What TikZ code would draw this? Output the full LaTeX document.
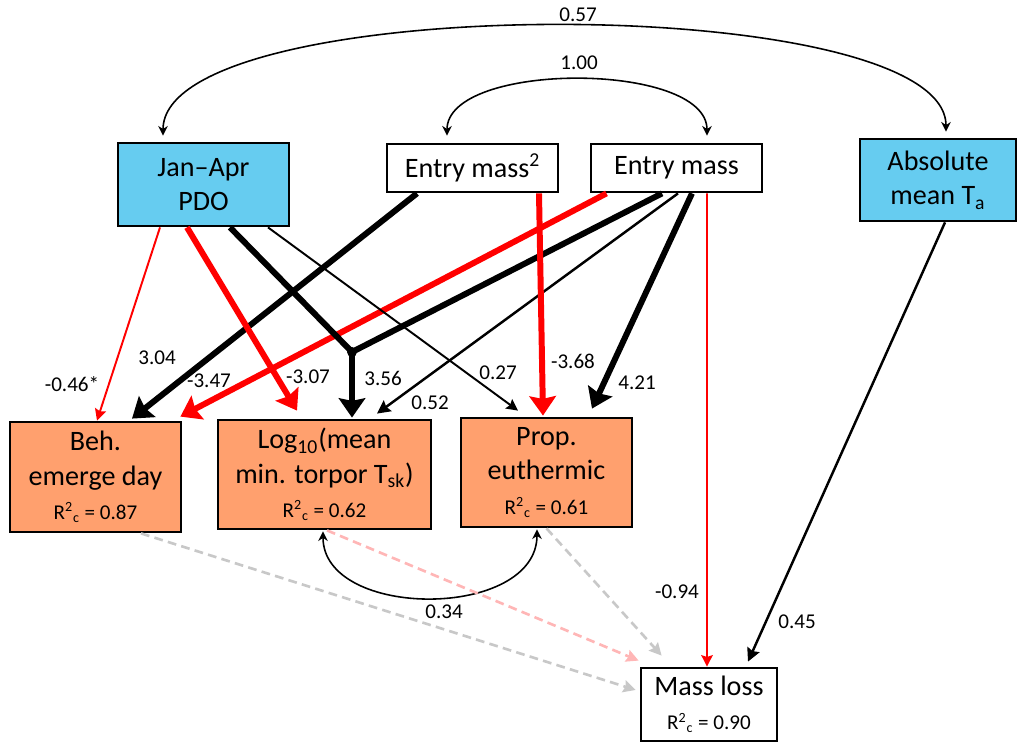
\documentclass[tikz,border=0pt]{standalone}
\usepackage{fontspec}
\setmainfont{Carlito}
\usetikzlibrary{arrows.meta,calc}
\definecolor{drvblue}{RGB}{102,204,240}
\definecolor{resporange}{RGB}{255,160,110}
\definecolor{nsgray}{RGB}{200,200,200}
\definecolor{nspink}{RGB}{255,182,182}
\newcommand{\rsqc}[1]{{\fontsize{12}{14}\selectfont R\textsuperscript{2}\textsubscript{c} = #1}}
\begin{document}
\begin{tikzpicture}[x=0.02cm,y=-0.02cm,
box/.style={draw,line width=1.6pt,inner sep=0pt,align=center,font=\fontsize{16}{19.5}\selectfont},
lbl/.style={font=\fontsize{12}{14}\selectfont,inner sep=0pt},
thinarr/.style={line width=1.1pt,-{Stealth[length=6.5pt,width=6.5pt,inset=1pt]}},
midarr/.style={line width=1.4pt,-{Stealth[length=7.5pt,width=7.5pt,inset=1pt]}},
thickarr/.style={line width=3.4pt,-{Stealth[length=11pt,width=15pt,inset=1.5pt]}},
corarr/.style={line width=0.9pt,{Stealth[length=5.5pt,width=5.5pt]}-{Stealth[length=5.5pt,width=5.5pt]}},
nsarr/.style={line width=1.5pt,dash pattern=on 5pt off 3pt,-{Stealth[length=7pt,width=7pt,inset=1pt]}}]
\useasboundingbox (0,0) rectangle (1020,742);
% exogenous boxes
\node[box,fill=drvblue,minimum width=3.42cm,minimum height=1.66cm] (pdo) at (203.5,184.5) {Jan--Apr\\PDO};
\node[box,fill=white,minimum width=3.42cm,minimum height=0.96cm] (emsq) at (472.5,168) {Entry mass\textsuperscript{2}};
\node[box,fill=white,minimum width=3.42cm,minimum height=0.96cm] (em) at (676.5,168) {Entry mass};
\node[box,fill=drvblue,minimum width=3.12cm,minimum height=1.64cm] (ta) at (938,180) {Absolute\\mean T\textsubscript{a}};
% responses
\node[box,fill=resporange,minimum width=3.42cm,minimum height=2.2cm] (beh) at (95.5,477) {Beh.\\emerge day\\\rsqc{0.87}};
\node[box,fill=resporange,minimum width=4.26cm,minimum height=2.18cm] (tsk) at (324.5,474.5) {Log\textsubscript{10}(mean\\min. torpor T\textsubscript{sk})\\\rsqc{0.62}};
\node[box,fill=resporange,minimum width=3.42cm,minimum height=2.18cm] (prop) at (546.5,472.5) {Prop.\\euthermic\\\rsqc{0.61}};
\node[box,fill=white,minimum width=2.72cm,minimum height=1.46cm] (ml) at (709,704.5) {Mass loss\\\rsqc{0.90}};
\node[circle,fill=black,inner sep=0pt,minimum size=0.2cm] (jn) at (352,352) {};
% correlations
\draw[corarr] ($(pdo.north)+(-40.5,-6)$) .. controls (163,-10) and (946,-10) .. ($(ta.north)+(8,-6)$);
\draw[corarr] ($(emsq.north)+(-25.5,-7)$) .. controls (447,61) and (707,61) .. ($(em.north)+(30.5,-7)$);
\draw[corarr] ($(tsk.south)+(-1.5,1)$) .. controls (323,620) and (537,620) .. ($(prop.south)+(-9.5,1)$);
% non-significant paths
\draw[nsarr,nsgray] ($(beh.south)+(45.5,0)$) -- ($(ml.west)+(-4,-14.5)$);
\draw[nsarr,nspink] ($(tsk.south)+(2.5,0)$) -- ($(ml.north west)+(-1,-6)$);
\draw[nsarr,nsgray] (prop.south) -- ($(ml.north west)+(22,-11)$);
% paths
\draw[thinarr,red] ($(pdo.south)+(-43.5,0)$) -- ($(beh.north)+(1.5,0)$);
\draw[thickarr] ($(emsq.south)+(-55.5,0)$) -- ($(beh.north)+(36.5,-2)$);
\draw[thickarr,red] ($(em.south)+(-70,0)$) -- ($(beh.north east)+(-2,-4)$);
\draw[thickarr,red] ($(pdo.south)+(-16.5,0)$) -- ($(tsk.north)+(-27.5,-8)$);
\draw[line width=3.4pt] ($(pdo.south)+(26.5,0)$) -- (jn.center);
\draw[line width=3.4pt] ($(em.south)+(-14.5,0)$) -- (jn.center);
\draw[thickarr] (jn.center) -- ($(tsk.north)+(27.5,-1)$);
\draw[midarr] ($(em.south)+(1.5,0)$) -- ($(tsk.north)+(52.5,-5)$);
\draw[thinarr] ($(pdo.south)+(64.5,0)$) -- ($(prop.north)+(-28.5,-6)$);
\draw[thickarr,red] ($(emsq.south)+(66.5,0)$) -- ($(prop.north)+(-3.5,-1)$);
\draw[thickarr] ($(em.south)+(15.5,0)$) -- ($(prop.north)+(45.5,-8)$);
\draw[thinarr,red] ($(em.south)+(30.5,0)$) -- ($(ml.north)+(-2,0)$);
\draw[midarr] ($(ta.south)+(7,0)$) -- ($(ml.north)+(39,-5)$);
% labels
\node[lbl] (l057) at (578,15) {0.57};
\node[lbl] (l100) at (579,63) {1.00};
\node[lbl] (l046) at (72,384) {-0.46*};
\node[lbl] (l304) at (157,358) {3.04};
\node[lbl] (l347) at (209,381) {-3.47};
\node[lbl] (l307) at (308,377) {-3.07};
\node[lbl] (l356) at (383,378) {3.56};
\node[lbl] (l052) at (430,403) {0.52};
\node[lbl] (l027) at (498,373) {0.27};
\node[lbl] (l368) at (573,361) {-3.68};
\node[lbl] (l421) at (637,383) {4.21};
\node[lbl] (l094) at (677,592) {-0.94};
\node[lbl] (l045) at (797,622) {0.45};
\node[lbl] (l034) at (444,612) {0.34};
\end{tikzpicture}
\end{document}
